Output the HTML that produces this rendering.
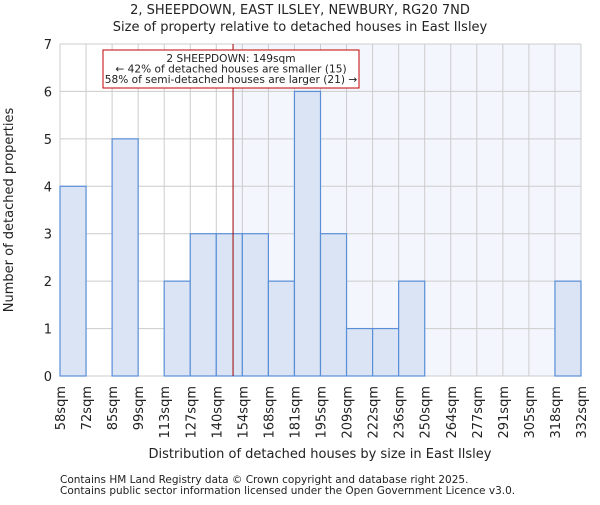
<!DOCTYPE html>
<html><head><meta charset="utf-8"><style>
body{margin:0;background:#fff}
svg text{font-family:"DejaVu Sans","Liberation Sans",sans-serif;fill:#222}
</style></head><body>
<svg id="chart" width="600" height="500" viewBox="0 0 600 500" xmlns="http://www.w3.org/2000/svg">
<text x="300" y="14" font-size="13" text-anchor="middle">2, SHEEPDOWN, EAST ILSLEY, NEWBURY, RG20 7ND</text>
<text x="300" y="31" font-size="13" text-anchor="middle">Size of property relative to detached houses in East Ilsley</text>
<g id="plot"></g>
<text x="320" y="458" font-size="13" text-anchor="middle">Distribution of detached houses by size in East Ilsley</text>
<text transform="translate(13,210) rotate(-90)" font-size="13" text-anchor="middle">Number of detached properties</text>
<text x="60" y="483" font-size="10.5">Contains HM Land Registry data © Crown copyright and database right 2025.</text>
<text x="60" y="494" font-size="10.5">Contains public sector information licensed under the Open Government Licence v3.0.</text>
</svg>
<script>
const binLabels=["58sqm","72sqm","85sqm","99sqm","113sqm","127sqm","140sqm","154sqm","168sqm","181sqm","195sqm","209sqm","222sqm","236sqm","250sqm","264sqm","277sqm","291sqm","305sqm","318sqm","332sqm"];
const binEdges=[58,72,85,99,113,127,140,154,168,181,195,209,222,236,250,264,277,291,305,318,332];
const counts=[4,0,5,0,2,3,3,3,2,6,3,1,1,2,0,0,0,0,0,2];
const yTicks=[0,1,2,3,4,5,6,7];
const subjectSize=149;
const annLines=["2 SHEEPDOWN: 149sqm","← 42% of detached houses are smaller (15)","58% of semi-detached houses are larger (21) →"];
const NS="http://www.w3.org/2000/svg";
const X0=60,X1=581,Y0=376,Y1=44,YMAX=7;
const nb=counts.length;
const xi=i=>X0+(X1-X0)*i/nb;
function xv(v){let i=0;while(i<nb-1&&v>binEdges[i+1])i++;return xi(i)+(v-binEdges[i])/(binEdges[i+1]-binEdges[i])*(xi(i+1)-xi(i));}
const y=v=>Y0-(Y0-Y1)*v/YMAX;
const g=document.getElementById('plot');
function mk(t,a){const e=document.createElementNS(NS,t);for(const k in a)e.setAttribute(k,a[k]);g.appendChild(e);return e;}
const sx=xv(subjectSize);
let e=mk('rect',{x:sx,y:Y1,width:X1-sx,height:Y0-Y1,fill:'#f3f6fd'});


for(let i=0;i<=nb;i++){e=mk('line',{x1:xi(i),x2:xi(i),y1:Y1,y2:Y0,stroke:'#cccccc'});

}
yTicks.forEach(t=>{e=mk('line',{x1:X0,x2:X1,y1:y(t),y2:y(t),stroke:'#cccccc'});


e=mk('text',{x:X0-8,y:y(t)+5,'font-size':13,'text-anchor':'end'});e.textContent=t;

});
counts.forEach((c,i)=>{if(!c)return;e=mk('rect',{x:xi(i),y:y(c),width:xi(i+1)-xi(i),height:Y0-y(c),fill:'#dae4f4',stroke:'#5a8fd8','stroke-width':1.2});

});
binLabels.forEach((l,i)=>{e=mk('text',{transform:`translate(${xi(i)+5},386) rotate(-90)`,'font-size':13,'text-anchor':'end'});e.textContent=l;

});
e=mk('line',{x1:sx,x2:sx,y1:Y1,y2:Y0,stroke:'#a00000','stroke-width':1});


e=mk('rect',{x:103,y:50,width:256,height:38,fill:'#fff',stroke:'#c00000','stroke-width':1});


annLines.forEach((l,i)=>{e=mk('text',{x:231,y:62+i*10.5,'font-size':10.6,'text-anchor':'middle'});e.textContent=l;

});
</script>
</body></html>
